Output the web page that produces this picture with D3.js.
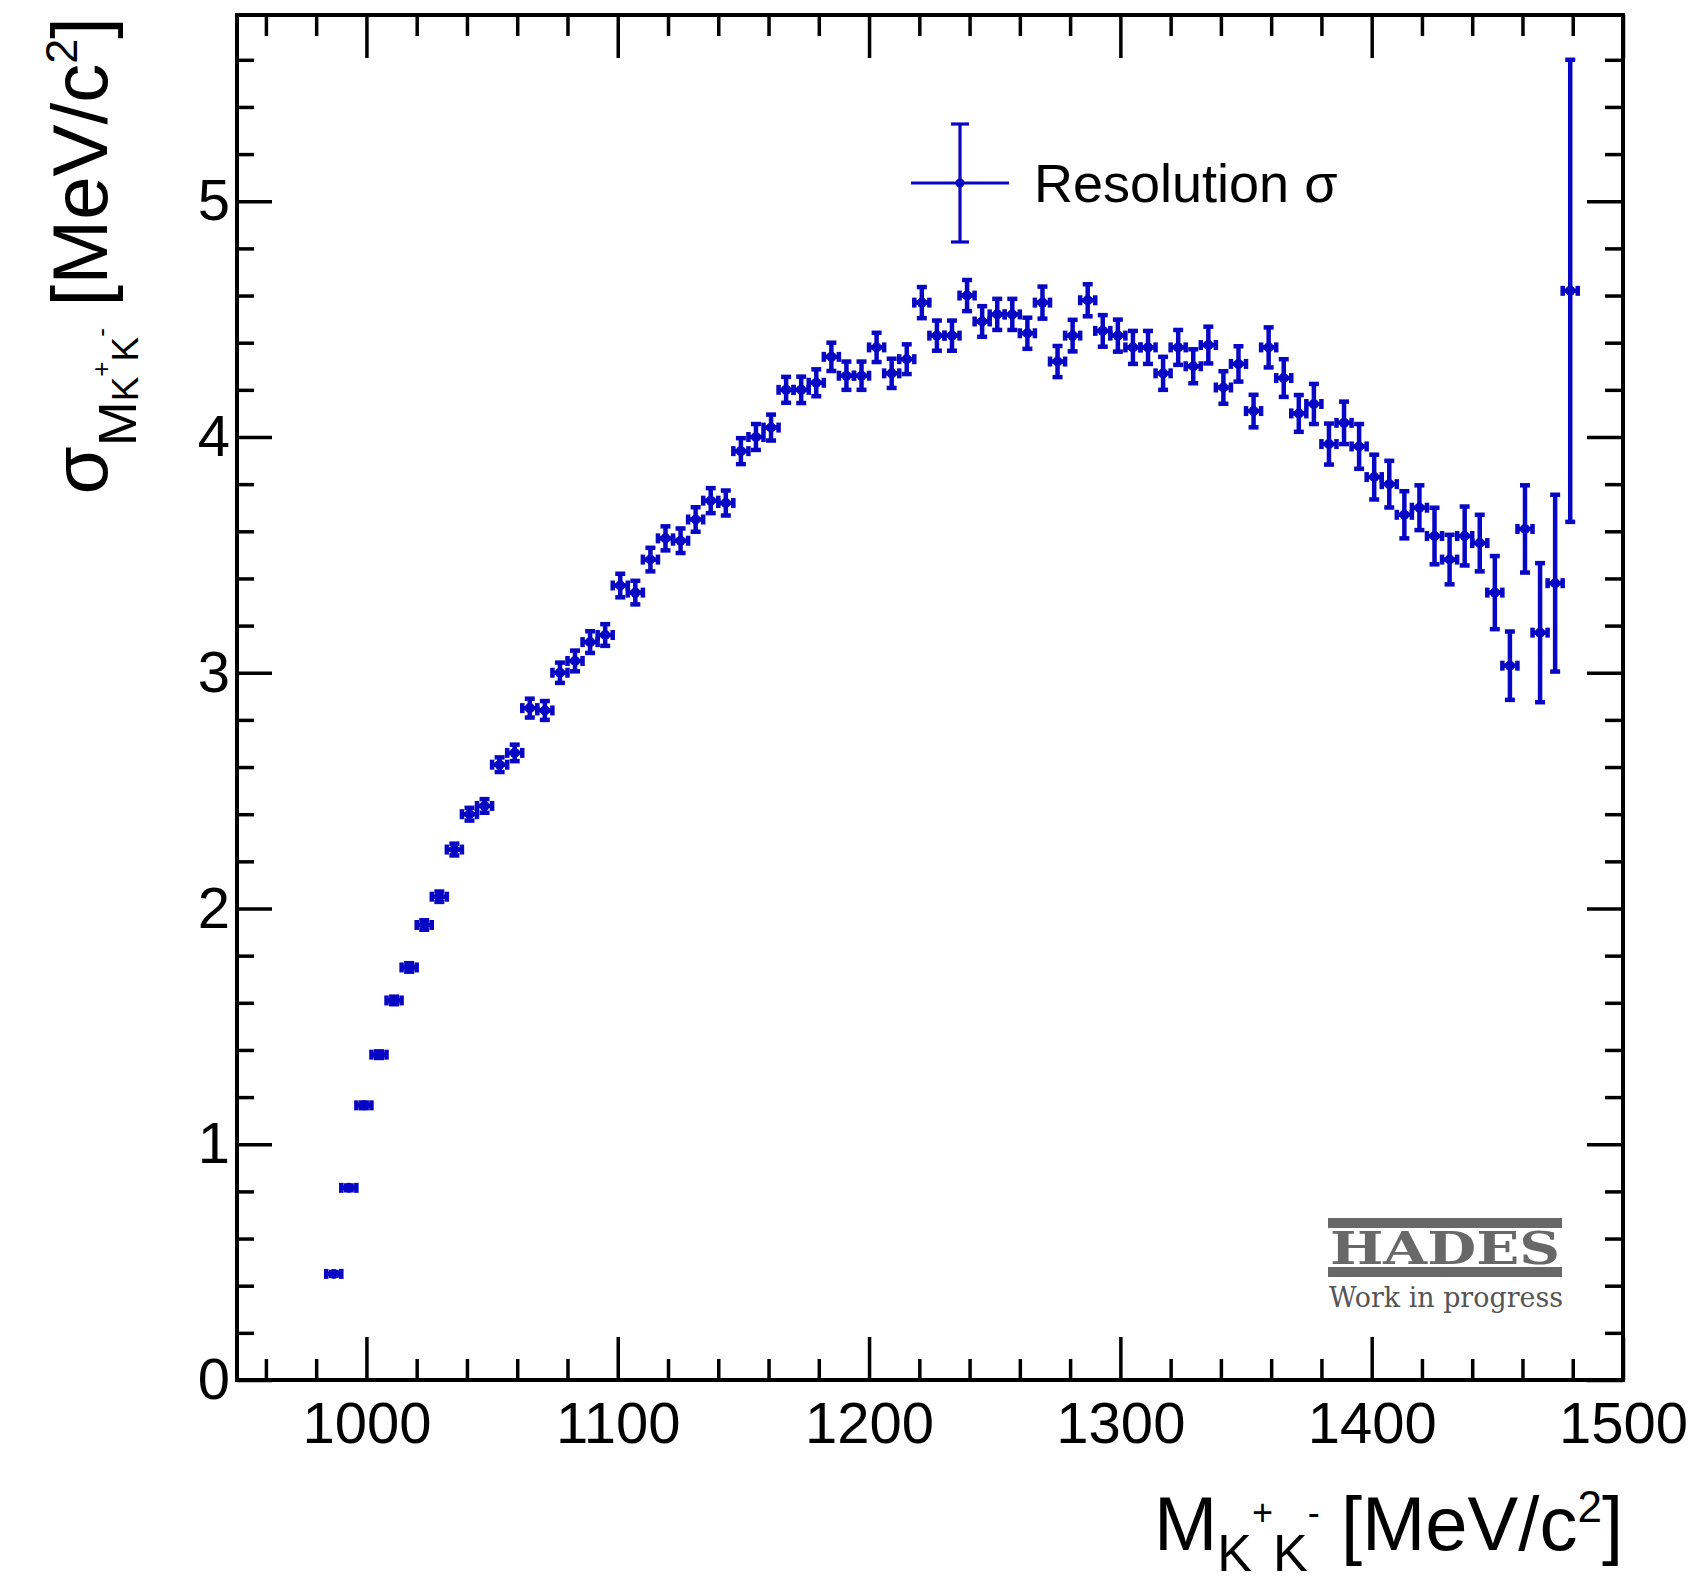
<!DOCTYPE html>
<html>
<head>
<meta charset="utf-8">
<script src="https://cdn.jsdelivr.net/npm/d3@7"></script>
<style>
  html, body { margin: 0; padding: 0; background: #fff; }
  svg { display: block; }
</style>
</head>
<body>
<div id="chart"></div>
<script>
// K+K- invariant mass bins (bin centres, MeV/c^2)
const massBins = [987, 993, 999, 1005, 1011, 1017, 1023, 1029, 1035, 1041, 1047, 1053, 1059,
  1065, 1071, 1077, 1083, 1089, 1095, 1101, 1107, 1113, 1119, 1125, 1131, 1137, 1143, 1149,
  1155, 1161, 1167, 1173, 1179, 1185, 1191, 1197, 1203, 1209, 1215, 1221, 1227, 1233, 1239,
  1245, 1251, 1257, 1263, 1269, 1275, 1281, 1287, 1293, 1299, 1305, 1311, 1317, 1323, 1329,
  1335, 1341, 1347, 1353, 1359, 1365, 1371, 1377, 1383, 1389, 1395, 1401, 1407, 1413, 1419,
  1425, 1431, 1437, 1443, 1449, 1455, 1461, 1467, 1473, 1479];
const binHalfWidth = 3;

// resolution sigma (MeV/c^2)
const sigma = [0.45, 0.815, 1.165, 1.38, 1.61, 1.75, 1.93, 2.05, 2.25, 2.40, 2.435, 2.61, 2.66,
  2.85, 2.84, 3.00, 3.05, 3.13, 3.16, 3.37, 3.34, 3.48, 3.57, 3.56, 3.65, 3.73, 3.72, 3.94,
  4.00, 4.04, 4.20, 4.20, 4.23, 4.34, 4.26, 4.26, 4.38, 4.27, 4.33, 4.57, 4.43, 4.43, 4.60,
  4.49, 4.52, 4.52, 4.44, 4.57, 4.32, 4.43, 4.58, 4.45, 4.43, 4.38, 4.38, 4.27, 4.38, 4.30,
  4.39, 4.21, 4.31, 4.11, 4.38, 4.25, 4.10, 4.14, 3.97, 4.06, 3.96, 3.83, 3.80, 3.67, 3.70,
  3.58, 3.48, 3.58, 3.55, 3.34, 3.03, 3.61, 3.17, 3.38, 4.62];

const sigmaErr = [0.008, 0.010, 0.012, 0.014, 0.016, 0.018, 0.020, 0.022, 0.025, 0.027, 0.029,
  0.031, 0.035, 0.040, 0.040, 0.043, 0.044, 0.046, 0.046, 0.050, 0.050, 0.050, 0.051, 0.052,
  0.052, 0.053, 0.053, 0.055, 0.055, 0.055, 0.055, 0.056, 0.057, 0.060, 0.060, 0.060, 0.062,
  0.062, 0.063, 0.066, 0.064, 0.064, 0.066, 0.065, 0.066, 0.066, 0.066, 0.068, 0.066, 0.067,
  0.068, 0.067, 0.068, 0.070, 0.070, 0.070, 0.074, 0.072, 0.078, 0.069, 0.075, 0.069, 0.085,
  0.080, 0.078, 0.085, 0.087, 0.090, 0.095, 0.095, 0.099, 0.100, 0.095, 0.120, 0.105, 0.125,
  0.120, 0.155, 0.145, 0.185, 0.295, 0.375, 0.98];

const xMajorTicks = [1000, 1100, 1200, 1300, 1400, 1500];
const xMinorTicks = [960, 980, 1020, 1040, 1060, 1080, 1120, 1140, 1160, 1180, 1220, 1240, 1260,
  1280, 1320, 1340, 1360, 1380, 1420, 1440, 1460, 1480];
const yMajorTicks = [0, 1, 2, 3, 4, 5];
const yMinorTicks = [0.2, 0.4, 0.6, 0.8, 1.2, 1.4, 1.6, 1.8, 2.2, 2.4, 2.6, 2.8, 3.2, 3.4, 3.6,
  3.8, 4.2, 4.4, 4.6, 4.8, 5.2, 5.4, 5.6];

const W = 1705, H = 1586;
const frame = { left: 237, right: 1623, top: 15, bottom: 1380 };
const BLUE = "#0606c4";
const SANS = "Arial, 'Liberation Sans', Helvetica, sans-serif";

const svg = d3.select("#chart").append("svg")
  .attr("width", W).attr("height", H)
  .attr("viewBox", `0 0 ${W} ${H}`)
  .style("font-family", SANS);
svg.append("rect").attr("width", W).attr("height", H).attr("fill", "#fff");

const x = d3.scaleLinear().domain([948.5, 1500]).range([frame.left, frame.right]);
const y = d3.scaleLinear().domain([0, 5.79]).range([frame.bottom, frame.top]);

// ticks on all four sides, pointing inward (ROOT style)
function tickLayer(axisFn, scale, vals, size, pos, labels, pad) {
  const g = svg.append("g")
    .attr("transform", pos)
    .call(axisFn(scale).tickValues(vals).tickSize(-size).tickSizeOuter(0)
      .tickPadding(pad || 0).tickFormat(labels ? d3.format("d") : () => ""));
  g.select(".domain").remove();
  g.attr("font-family", null).attr("font-size", null);
  g.selectAll(".tick line").attr("stroke", "#000").attr("stroke-width", 3.5);
  g.selectAll(".tick text").attr("fill", "#000").attr("font-size", 58);
  return g;
}

tickLayer(d3.axisBottom, x, xMajorTicks, 43, `translate(0,${frame.bottom})`, true, 22);
tickLayer(d3.axisBottom, x, xMinorTicks, 21, `translate(0,${frame.bottom})`, false);
tickLayer(d3.axisTop, x, xMajorTicks, 43, `translate(0,${frame.top})`, false);
tickLayer(d3.axisTop, x, xMinorTicks, 21, `translate(0,${frame.top})`, false);
tickLayer(d3.axisLeft, y, yMajorTicks, 35, `translate(${frame.left},0)`, true, 7);
tickLayer(d3.axisLeft, y, yMinorTicks, 17, `translate(${frame.left},0)`, false);
tickLayer(d3.axisRight, y, yMajorTicks, 36, `translate(${frame.right},0)`, false);
tickLayer(d3.axisRight, y, yMinorTicks, 18, `translate(${frame.right},0)`, false);

svg.append("rect")
  .attr("x", frame.left).attr("y", frame.top)
  .attr("width", frame.right - frame.left).attr("height", frame.bottom - frame.top)
  .attr("fill", "none").attr("stroke", "#000").attr("stroke-width", 4);

// axis titles
const xt = svg.append("text")
  .attr("x", frame.right).attr("y", 1550)
  .attr("text-anchor", "end").attr("font-size", 76);
xt.append("tspan").text("M");
xt.append("tspan").attr("font-size", 52).attr("dy", 21).text("K");
xt.append("tspan").attr("font-size", 36).attr("dy", -46).text("+");
xt.append("tspan").attr("font-size", 52).attr("dy", 46).text("K");
xt.append("tspan").attr("font-size", 36).attr("dy", -46).text("-");
xt.append("tspan").attr("dy", 25).text("\u00a0[MeV/c");
xt.append("tspan").attr("font-size", 44).attr("dy", -28).text("2");
xt.append("tspan").attr("dy", 28).text("]");

const yt = svg.append("text")
  .attr("transform", `translate(107,${frame.top + 2}) rotate(-90)`)
  .attr("text-anchor", "end").attr("font-size", 78);
yt.append("tspan").text("\u03c3");
yt.append("tspan").attr("font-size", 54).attr("dy", 29).text("M");
yt.append("tspan").attr("font-size", 37).attr("dy", 2).text("K");
yt.append("tspan").attr("font-size", 26).attr("dy", -28).text("+");
yt.append("tspan").attr("font-size", 37).attr("dy", 28).text("K");
yt.append("tspan").attr("font-size", 26).attr("dy", -28).text("-");
yt.append("tspan").attr("dy", -3).text("\u00a0[MeV/c");
yt.append("tspan").attr("font-size", 45).attr("dy", -30).text("2");
yt.append("tspan").attr("dy", 30).text("]");

// data points with x and y error bars (E1 style, with end caps)
const points = massBins.map((m, i) => ({ m, s: sigma[i], e: sigmaErr[i] }));
const cap = 5;
const gPts = svg.append("g").attr("stroke", BLUE).attr("stroke-width", 4.5).attr("fill", BLUE);
const pt = gPts.selectAll("g.pt").data(points).join("g").attr("class", "pt");
pt.append("line")
  .attr("x1", d => x(d.m - binHalfWidth)).attr("x2", d => x(d.m + binHalfWidth))
  .attr("y1", d => y(d.s)).attr("y2", d => y(d.s));
pt.append("line")
  .attr("x1", d => x(d.m)).attr("x2", d => x(d.m))
  .attr("y1", d => y(d.s - d.e)).attr("y2", d => y(d.s + d.e));
pt.selectAll("line.ycap").data(d => [[d.m, d.s - d.e], [d.m, d.s + d.e]]).join("line")
  .attr("class", "ycap")
  .attr("x1", d => x(d[0]) - cap).attr("x2", d => x(d[0]) + cap)
  .attr("y1", d => y(d[1])).attr("y2", d => y(d[1]));
pt.selectAll("line.xcap").data(d => [[d.m - binHalfWidth, d.s], [d.m + binHalfWidth, d.s]]).join("line")
  .attr("class", "xcap")
  .attr("x1", d => x(d[0])).attr("x2", d => x(d[0]))
  .attr("y1", d => y(d[1]) - cap).attr("y2", d => y(d[1]) + cap);
pt.append("circle")
  .attr("cx", d => x(d.m)).attr("cy", d => y(d.s)).attr("r", 5).attr("stroke", "none");

// legend
const lg = svg.append("g").attr("stroke", BLUE).attr("stroke-width", 3.2);
const lx = 960, ly = 183;
lg.append("line").attr("x1", lx - 49).attr("x2", lx + 49).attr("y1", ly).attr("y2", ly);
lg.append("line").attr("x1", lx).attr("x2", lx).attr("y1", ly - 59).attr("y2", ly + 59);
lg.append("line").attr("x1", lx - 9).attr("x2", lx + 9).attr("y1", ly - 59).attr("y2", ly - 59);
lg.append("line").attr("x1", lx - 9).attr("x2", lx + 9).attr("y1", ly + 59).attr("y2", ly + 59);
lg.append("circle").attr("cx", lx).attr("cy", ly).attr("r", 4.5).attr("fill", BLUE).attr("stroke", "none");
svg.append("text").attr("x", 1034).attr("y", 202).attr("font-size", 54).text("Resolution \u03c3");

// HADES logo
const GREY = "#686868";
const logo = svg.append("g").attr("fill", GREY);
logo.append("rect").attr("x", 1328).attr("y", 1218).attr("width", 234).attr("height", 10);
logo.append("rect").attr("x", 1328).attr("y", 1267).attr("width", 234).attr("height", 10);
logo.append("text").attr("x", 1330).attr("y", 1264)
  .style("font-family", "'DejaVu Serif', 'Liberation Serif', serif").attr("font-weight", "bold")
  .attr("font-size", 44).attr("textLength", 230).attr("lengthAdjust", "spacingAndGlyphs")
  .attr("fill", GREY).text("HADES");
svg.append("text").attr("x", 1329).attr("y", 1307)
  .style("font-family", "'DejaVu Serif', 'Liberation Serif', serif")
  .attr("font-size", 28).attr("textLength", 234).attr("lengthAdjust", "spacingAndGlyphs")
  .attr("fill", "#555").text("Work in progress");
</script>
</body>
</html>
